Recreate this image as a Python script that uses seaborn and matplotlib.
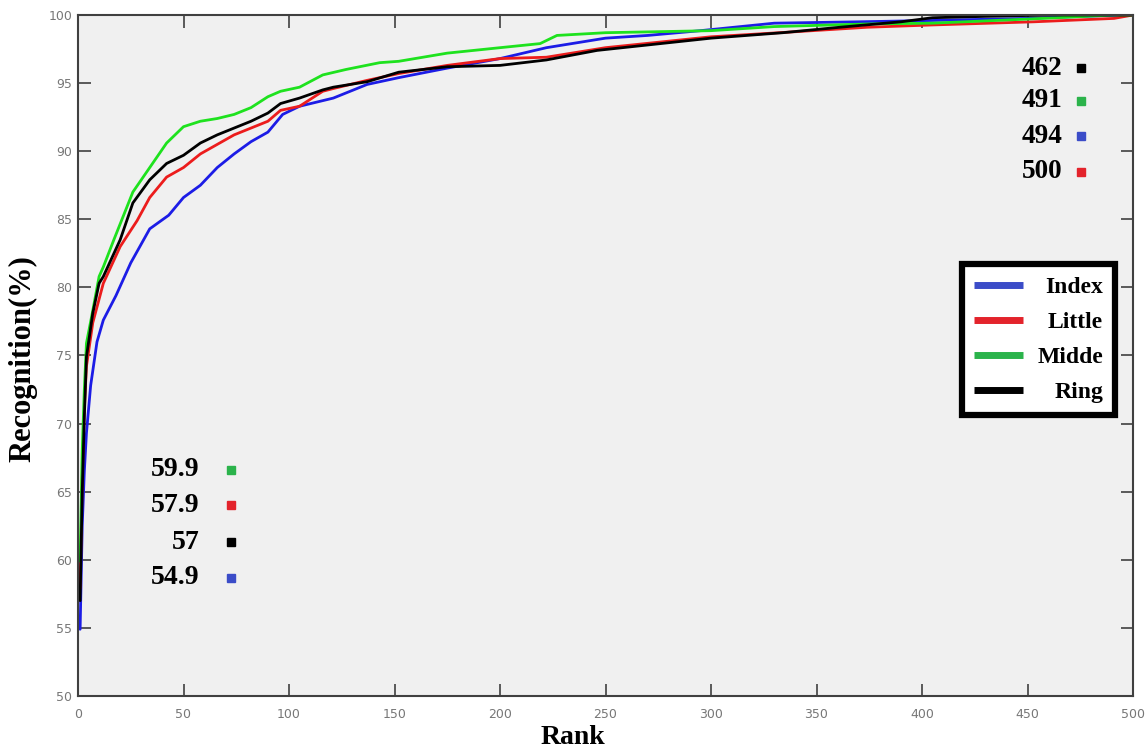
import numpy as np
import pandas as pd
import matplotlib
matplotlib.use("Agg")
import matplotlib.pyplot as plt
from matplotlib.lines import Line2D
import seaborn as sns

#%% data (rank vs recognition %)
index_rank = [1, 2, 3, 4, 6, 9, 12, 18, 25, 34, 43, 50, 58, 66, 74, 82, 90, 97, 105, 121,
              137, 152, 175, 200, 222, 250, 270, 295, 330, 370, 405, 450, 494, 500]
index_val = [54.9, 62.5, 66.5, 69.3, 72.8, 76.0, 77.6, 79.4, 81.8, 84.3, 85.3, 86.6, 87.5, 88.8,
             89.8, 90.7, 91.4, 92.7, 93.3, 93.9, 94.9, 95.4, 96.1, 96.8, 97.6, 98.3, 98.5, 98.85,
             99.4, 99.5, 99.6, 99.75, 100, 100]

little_rank = [1, 2, 3, 4, 7, 12, 20, 28, 34, 42, 50, 58, 66, 74, 82, 90, 96, 105, 116, 121,
               137, 152, 175, 200, 222, 250, 300, 343, 374, 405, 453, 491, 500]
little_val = [57.9, 66.0, 71.0, 74.2, 77.4, 80.3, 83.0, 84.9, 86.6, 88.1, 88.8, 89.8, 90.5, 91.2,
              91.7, 92.2, 93.0, 93.3, 94.4, 94.6, 95.2, 95.7, 96.3, 96.8, 96.9, 97.6, 98.4, 98.8,
              99.1, 99.27, 99.5, 99.75, 100]

middle_rank = [1, 2, 3, 4, 7, 10, 12, 17, 26, 34, 42, 50, 58, 66, 74, 82, 90, 96, 105, 116,
               127, 143, 152, 175, 200, 219, 227, 250, 300, 330, 374, 405, 450, 491, 500]
middle_val = [59.9, 68.0, 72.5, 75.9, 78.3, 80.8, 81.5, 83.5, 87.0, 88.8, 90.6, 91.8, 92.2, 92.4,
              92.7, 93.2, 94.0, 94.4, 94.7, 95.6, 96.0, 96.5, 96.6, 97.2, 97.6, 97.9, 98.5, 98.7,
              98.85, 99.15, 99.34, 99.4, 99.7, 100, 100]

ring_rank = [1, 2, 3, 4, 7, 10, 12, 20, 26, 34, 42, 50, 58, 66, 74, 82, 90, 96, 105, 116, 121,
             137, 152, 175, 200, 222, 246, 300, 334, 361, 390, 405, 430, 462, 500]
ring_val = [57.0, 65.0, 70.5, 74.9, 78.1, 80.3, 80.8, 83.5, 86.2, 87.9, 89.1, 89.7, 90.6, 91.2,
            91.7, 92.2, 92.8, 93.5, 93.9, 94.5, 94.7, 95.1, 95.8, 96.2, 96.3, 96.7, 97.4, 98.3,
            98.7, 99.1, 99.5, 99.8, 99.9, 100, 100]

fingers = ["Index", "Little", "Midde", "Ring"]
line_colors = {"Index": "#1c1ce6", "Little": "#ec1c1c", "Midde": "#1ee21e", "Ring": "#000000"}
legend_colors = ["#3b4cc8", "#e3232b", "#2bb34b", "#000000"]

# rank at which each finger reaches 100% and the rank-1 rate
top_labels = ["462", "491", "494", "500"]
top_colors = ["#000000", "#2bb34b", "#3b4cc8", "#e3232b"]
low_labels = ["59.9", "57.9", "57", "54.9"]
low_colors = ["#2bb34b", "#e3232b", "#000000", "#3b4cc8"]

#%% long-form table for seaborn
df = pd.concat([
    pd.DataFrame({"Rank": index_rank, "Recognition": index_val, "Finger": "Index"}),
    pd.DataFrame({"Rank": little_rank, "Recognition": little_val, "Finger": "Little"}),
    pd.DataFrame({"Rank": middle_rank, "Recognition": middle_val, "Finger": "Midde"}),
    pd.DataFrame({"Rank": ring_rank, "Recognition": ring_val, "Finger": "Ring"}),
], ignore_index=True)

#%% plot
sns.set_style("ticks")
plt.rcParams["font.family"] = ["Liberation Serif", "DejaVu Serif"]
plt.rcParams["text.color"] = "black"
plt.rcParams["axes.labelcolor"] = "black"

fig = plt.figure(figsize=(11.48, 7.52), dpi=100)
ax = fig.add_axes([78 / 1148, 1 - 696 / 752, (1133 - 78) / 1148, (696 - 15) / 752])
ax.set_facecolor("#f0f0f0")

sns.lineplot(data=df, x="Rank", y="Recognition", hue="Finger", hue_order=fingers,
             palette=line_colors, linewidth=2, sort=False, legend=False, ax=ax)

ax.set_xlim(0, 500)
ax.set_ylim(50, 100)
ax.set_xticks(np.arange(0, 501, 50))
ax.set_yticks(np.arange(50, 101, 5))
ax.tick_params(axis="both", direction="in", top=True, right=True, length=9, width=1.2,
               color="#404040", labelsize=9, labelcolor="#777777")
ax.tick_params(axis="x", pad=9)
ax.tick_params(axis="y", pad=4)
for lab in ax.get_xticklabels() + ax.get_yticklabels():
    lab.set_family(["Liberation Sans Narrow", "DejaVu Sans"])
for s in ax.spines.values():
    s.set_color("#404040")
    s.set_linewidth(1.5)

ax.set_xlabel("Rank", fontsize=20, fontweight="bold", va="top")
ax.xaxis.set_label_coords(0.469, -0.043)
ax.set_ylabel("Recognition(%)", fontsize=22, fontweight="bold", va="center")
ax.yaxis.set_label_coords(-0.052, 0.495)

# annotations: ranks reaching 100% (top right) and rank-1 rates (bottom left)
top_y = [96.1, 93.7, 91.1, 88.5]
for lab, c, y in zip(top_labels, top_colors, top_y):
    ax.text(466.5, y, lab, ha="right", va="center", fontsize=19.5, fontweight="bold")
    ax.plot(475.5, y, marker="s", color=c, markersize=6)
low_y = [66.6, 64.0, 61.3, 58.7]
for lab, c, y in zip(low_labels, low_colors, low_y):
    ax.text(57.5, y, lab, ha="right", va="center", fontsize=20, fontweight="bold")
    ax.plot(72.5, y, marker="s", color=c, markersize=6)

handles = [Line2D([], [], color=c, linewidth=5, solid_capstyle="butt") for c in legend_colors]
leg = ax.legend(handles, fingers, loc="upper right", bbox_to_anchor=(0.994, 0.651),
                fancybox=False, framealpha=1, edgecolor="black", facecolor="white",
                prop={"size": 17, "weight": "bold"}, handlelength=2.1, handletextpad=0.6,
                labelspacing=0.58, borderpad=0.5)
leg.get_frame().set_linewidth(4.5)

# right-align the legend labels (shift the shorter ones within the column)
fig.canvas.draw()
renderer = fig.canvas.get_renderer()
widths = [t.get_window_extent(renderer).width for t in leg.get_texts()]
for t, w in zip(leg.get_texts(), widths):
    t.set_position((max(widths) - w, 0))

plt.savefig("out.png", dpi=100, facecolor="white")
